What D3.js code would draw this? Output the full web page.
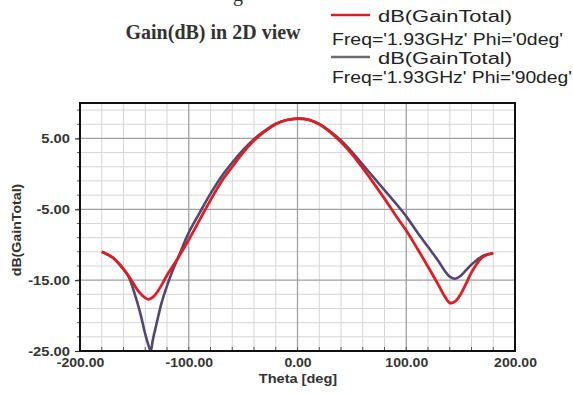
<!DOCTYPE html>
<html>
<head>
<meta charset="utf-8">
<script src="https://cdn.jsdelivr.net/npm/d3@7"></script>
<style>
  html, body { margin: 0; padding: 0; background: #fff; }
  svg { display: block; }
</style>
</head>
<body>
<svg id="chart" width="573" height="394"></svg>
<script>
// Far-field gain cuts at 1.93 GHz, theta sweep in degrees
const theta = [-180,-170,-160,-155,-150,-145,-140,-137,-135,-133,-130,-125,-120,-115,-110,-100,-90,-80,-70,-60,-50,-40,-30,-20,-10,0,10,20,30,40,50,60,70,80,90,100,110,120,130,135,140,145,150,155,160,170,180];

// dB(GainTotal), Phi = 0 deg
const gainPhi0 = [-11.0,-11.8,-13.4,-14.5,-15.7,-16.8,-17.5,-17.7,-17.6,-17.4,-16.9,-15.7,-14.3,-13.1,-11.9,-9.3,-6.5,-3.7,-1.1,1.0,3.0,4.7,6.0,7.0,7.6,7.8,7.65,7.0,5.9,4.5,2.8,0.8,-1.3,-3.5,-5.8,-8.0,-10.5,-13.1,-15.8,-17.2,-18.2,-18.0,-17.0,-15.5,-13.9,-11.8,-11.2];

// dB(GainTotal), Phi = 90 deg
const gainPhi90 = [-11.0,-11.8,-13.5,-14.6,-16.8,-19.4,-22.6,-24.2,-25.0,-23.4,-21.4,-18.2,-15.8,-13.7,-11.9,-8.3,-5.5,-2.8,-0.4,1.6,3.4,4.9,6.1,7.1,7.6,7.8,7.65,7.05,6.0,4.7,3.1,1.3,-0.5,-2.3,-4.1,-6.0,-8.2,-10.3,-12.4,-13.6,-14.5,-14.8,-14.4,-13.6,-12.8,-11.6,-11.2];

const xTicks = [-200, -100, 0, 100, 200];
const yTicks = [5, -5, -15, -25];
const seriesNames = ["dB(GainTotal)", "dB(GainTotal)"];
const seriesSub = ["Freq='1.93GHz' Phi='0deg'", "Freq='1.93GHz' Phi='90deg'"];
const chartTitle = "Gain(dB) in 2D view";

const svg = d3.select("#chart");
const pLeft = 80, pRight = 515, pTop = 103, pBottom = 351;

const x = d3.scaleLinear().domain([-200, 200]).range([pLeft, pRight]);
const y = d3.scaleLinear().domain([-25, 10]).range([pBottom, pTop]);

const fmt = d => d.toFixed(2);
const sans = "'Liberation Sans', Arial, sans-serif";

// stretch a text element horizontally by a factor
function widen(sel, k) {
  sel.each(function () {
    const w = this.getComputedTextLength();
    d3.select(this).attr("textLength", w * k).attr("lengthAdjust", "spacingAndGlyphs");
  });
}

// descender of the caption line above the chart
svg.append("text")
  .attr("x", 233).attr("y", 1)
  .attr("font-family", "'Liberation Serif', 'Times New Roman', serif")
  .attr("font-size", 20).attr("fill", "#333")
  .text("g");

// title
svg.append("text")
  .attr("x", 213).attr("y", 39)
  .attr("text-anchor", "middle")
  .attr("font-family", "'Liberation Serif', 'Times New Roman', serif")
  .attr("font-weight", "bold")
  .attr("font-size", 20)
  .attr("fill", "#333")
  .text(chartTitle);

// legend
const legendColors = ["#d91f26", "#6d6a72"];
const legendY = [15, 57];
legendColors.forEach((c, i) => {
  svg.append("line")
    .attr("x1", 331).attr("x2", 370)
    .attr("y1", legendY[i]).attr("y2", legendY[i])
    .attr("stroke", c).attr("stroke-width", 2.5);
  svg.append("text")
    .attr("x", 378).attr("y", legendY[i] + 7)
    .attr("font-family", sans).attr("font-size", 16).attr("fill", "#222")
    .attr("textLength", 134).attr("lengthAdjust", "spacingAndGlyphs")
    .text(seriesNames[i]);
  svg.append("text")
    .attr("x", 332).attr("y", legendY[i] + 30 - i * 4)
    .attr("font-family", sans).attr("font-size", 16).attr("fill", "#222")
    .attr("textLength", i === 0 ? 231 : 240).attr("lengthAdjust", "spacingAndGlyphs")
    .text(seriesSub[i]);
});

// grid: minor
const g = svg.append("g");
g.selectAll("line.vminor")
  .data(d3.range(-180, 200, 20).filter(v => v % 100 !== 0))
  .join("line")
  .attr("x1", d => x(d)).attr("x2", d => x(d))
  .attr("y1", pTop).attr("y2", pBottom)
  .attr("stroke", "#d6d6d6").attr("stroke-width", 1);
g.selectAll("line.hminor")
  .data(d3.range(-23, 10, 2).filter(v => !yTicks.includes(v)))
  .join("line")
  .attr("x1", pLeft).attr("x2", pRight)
  .attr("y1", d => y(d)).attr("y2", d => y(d))
  .attr("stroke", "#d6d6d6").attr("stroke-width", 1);
// grid: major
g.selectAll("line.vmajor")
  .data(xTicks.slice(1, -1))
  .join("line")
  .attr("x1", d => x(d)).attr("x2", d => x(d))
  .attr("y1", pTop).attr("y2", pBottom)
  .attr("stroke", "#a0a0a0").attr("stroke-width", 1.3);
g.selectAll("line.hmajor")
  .data(yTicks.slice(0, -1))
  .join("line")
  .attr("x1", pLeft).attr("x2", pRight)
  .attr("y1", d => y(d)).attr("y2", d => y(d))
  .attr("stroke", "#a0a0a0").attr("stroke-width", 1.3);

// curves
svg.append("clipPath").attr("id", "plotclip")
  .append("rect").attr("x", pLeft).attr("y", pTop - 2)
  .attr("width", pRight - pLeft).attr("height", pBottom - pTop + 3);

const line = d3.line()
  .x((d, i) => x(theta[i]))
  .y(d => y(d))
  .curve(d3.curveCatmullRom.alpha(0.5));

const curves = svg.append("g").attr("clip-path", "url(#plotclip)");
curves.append("path").datum(gainPhi90)
  .attr("d", line).attr("fill", "none")
  .attr("stroke", "#54476e").attr("stroke-width", 2.6)
  .attr("stroke-linejoin", "round");
curves.append("path").datum(gainPhi0)
  .attr("d", line).attr("fill", "none")
  .attr("stroke", "#dc1f24").attr("stroke-width", 2.8)
  .attr("stroke-linejoin", "round");

// axes
const yAxis = d3.axisLeft(y).tickValues(yTicks).tickFormat(fmt).tickSize(5).tickPadding(5);
const ya = svg.append("g").attr("transform", `translate(${pLeft},0)`).call(yAxis);
ya.select(".domain").remove();
ya.selectAll(".tick line").attr("stroke", "#333").attr("stroke-width", 1.2);
ya.selectAll(".tick text")
  .attr("font-family", sans).attr("font-size", 12.5).attr("font-weight", "bold")
  .attr("fill", "#333").call(widen, 1.18);

// left minor ticks
svg.append("g").selectAll("line")
  .data(d3.range(-23, 10, 2))
  .join("line")
  .attr("x1", pLeft - 3).attr("x2", pLeft)
  .attr("y1", d => y(d)).attr("y2", d => y(d))
  .attr("stroke", "#555").attr("stroke-width", 1);

const xAxis = d3.axisBottom(x).tickValues(xTicks).tickFormat(fmt).tickSize(0).tickPadding(7);
const xa = svg.append("g").attr("transform", `translate(0,${pBottom})`).call(xAxis);
xa.select(".domain").remove();
xa.selectAll(".tick text")
  .attr("font-family", sans).attr("font-size", 12.5).attr("font-weight", "bold")
  .attr("fill", "#333").call(widen, 1.12);

// bottom minor ticks (inside)
svg.append("g").selectAll("line")
  .data(d3.range(-180, 200, 20))
  .join("line")
  .attr("x1", d => x(d)).attr("x2", d => x(d))
  .attr("y1", pBottom - 4).attr("y2", pBottom)
  .attr("stroke", "#555").attr("stroke-width", 1);

// frame
svg.append("rect")
  .attr("x", pLeft).attr("y", pTop)
  .attr("width", pRight - pLeft).attr("height", pBottom - pTop)
  .attr("fill", "none").attr("stroke", "#111").attr("stroke-width", 2);

// axis titles
svg.append("text")
  .attr("x", 298).attr("y", 383)
  .attr("text-anchor", "middle")
  .attr("font-family", sans).attr("font-size", 13).attr("font-weight", "bold")
  .attr("fill", "#333")
  .text("Theta [deg]").call(widen, 1.12);

svg.append("text")
  .attr("transform", "translate(21,230) rotate(-90)")
  .attr("text-anchor", "middle")
  .attr("font-family", sans).attr("font-size", 12).attr("font-weight", "bold")
  .attr("fill", "#333")
  .text("dB(GainTotal)").call(widen, 1.18);
</script>
</body>
</html>
